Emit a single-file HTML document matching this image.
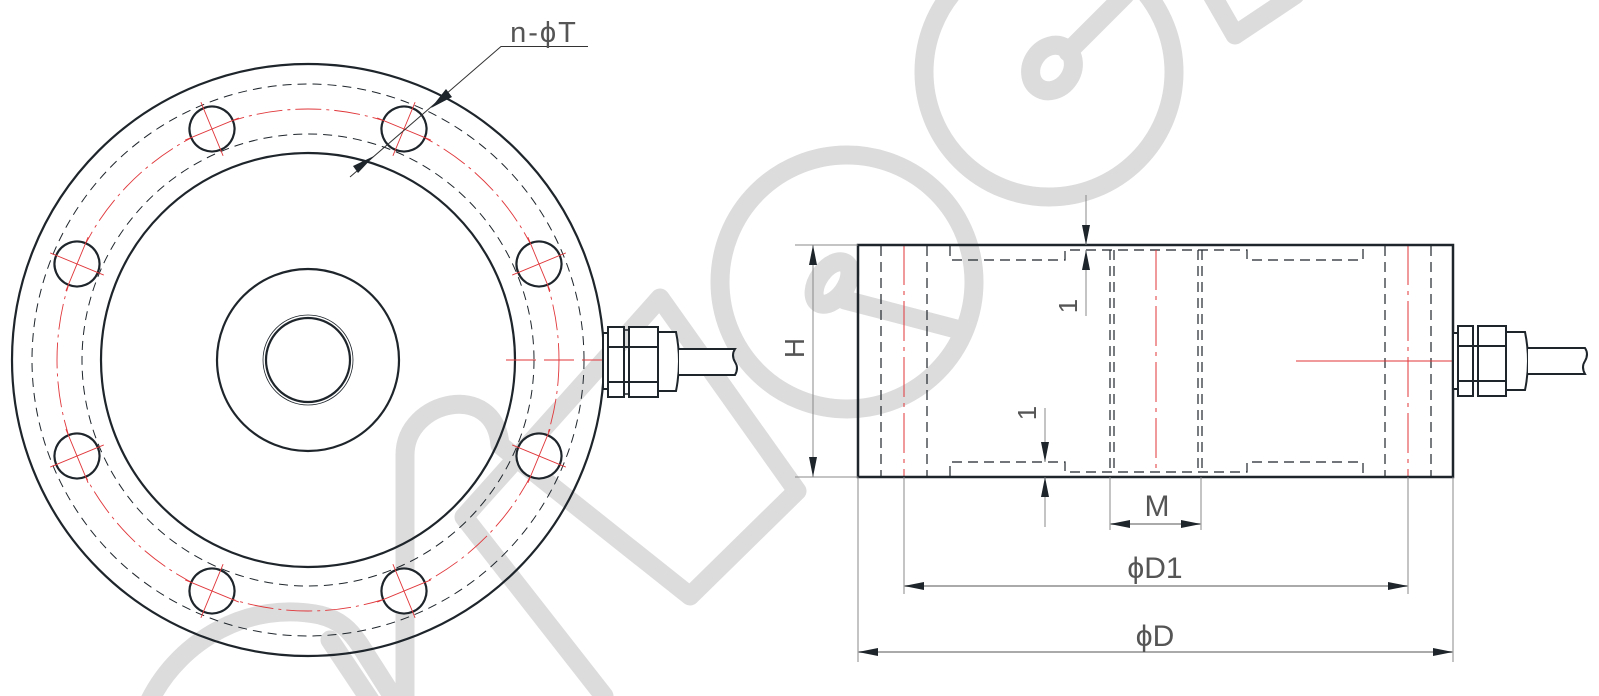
<!DOCTYPE html>
<html><head><meta charset="utf-8"><style>
html,body{margin:0;padding:0;background:#fff;}
svg{display:block;}
text{font-family:"Liberation Sans",sans-serif;fill:#555;}
</style></head><body>
<svg width="1599" height="696" viewBox="0 0 1599 696" xmlns="http://www.w3.org/2000/svg">
<defs>
<marker id="ar" viewBox="0 0 20 8" refX="20" refY="4" markerWidth="20" markerHeight="8" markerUnits="userSpaceOnUse" orient="auto"><path d="M0,0 L20,4 L0,8 z" fill="#1e252b"/></marker>
</defs>
<!-- watermark -->
<g fill="none" stroke="#dcdcdc" stroke-width="19" stroke-linecap="round" stroke-linejoin="round">
<circle cx="1049" cy="72" r="125"/>
<ellipse cx="1052" cy="68" rx="20" ry="24" transform="rotate(35 1052 68)"/>
<path d="M1068,52 L1125,-5"/>
<path d="M1212,-5 L1235,35 L1295,-5"/>
<circle cx="847" cy="282" r="127"/>
<ellipse cx="832" cy="283" rx="14" ry="24" transform="rotate(35 832 283)"/>
<path d="M845,300 L960,330"/>
<path d="M405,700 V455 C405,400 495,380 500,445 L690,596 L797,491 L660,298 L464,517 L604,696"/>
<path d="M150,700 C180,640 250,600 320,615 C340,620 350,630 360,645 L395,700"/>
<path d="M330,640 L370,700"/>
</g>
<!-- LEFT VIEW -->
<g fill="none" stroke="#1e252b">
<circle cx="308" cy="360" r="296" stroke-width="2.2"/>
<circle cx="308" cy="360" r="207" stroke-width="2.2"/>
<circle cx="308" cy="360" r="91" stroke-width="2.2"/>
<circle cx="308" cy="360" r="42" stroke-width="2.2"/>
<circle cx="308" cy="360" r="45" stroke-width="0.8"/>
<circle cx="308" cy="360" r="276" stroke-width="1" stroke-dasharray="9 6"/>
<circle cx="308" cy="360" r="226" stroke-width="1" stroke-dasharray="9 6"/>
</g>
<circle cx="308" cy="360" r="251" fill="none" stroke="#e0363a" stroke-width="0.9" stroke-dasharray="26 5 3 5"/>
<line x1="506" y1="360" x2="606" y2="360" stroke="#e0363a" stroke-width="1" stroke-dasharray="30 8"/>
<g>
<g transform="translate(539,264) rotate(-22.5)"><circle r="22.5" fill="#fff" stroke="#1e252b" stroke-width="2.2"/><path d="M-29,0H29M0,-29V29" stroke="#e0363a" stroke-width="0.9"/></g>
<g transform="translate(404,129) rotate(-67.5)"><circle r="22.5" fill="#fff" stroke="#1e252b" stroke-width="2.2"/><path d="M-29,0H29M0,-29V29" stroke="#e0363a" stroke-width="0.9"/></g>
<g transform="translate(212,129) rotate(67.5)"><circle r="22.5" fill="#fff" stroke="#1e252b" stroke-width="2.2"/><path d="M-29,0H29M0,-29V29" stroke="#e0363a" stroke-width="0.9"/></g>
<g transform="translate(77,264) rotate(22.5)"><circle r="22.5" fill="#fff" stroke="#1e252b" stroke-width="2.2"/><path d="M-29,0H29M0,-29V29" stroke="#e0363a" stroke-width="0.9"/></g>
<g transform="translate(77,456) rotate(-22.5)"><circle r="22.5" fill="#fff" stroke="#1e252b" stroke-width="2.2"/><path d="M-29,0H29M0,-29V29" stroke="#e0363a" stroke-width="0.9"/></g>
<g transform="translate(212,591) rotate(-67.5)"><circle r="22.5" fill="#fff" stroke="#1e252b" stroke-width="2.2"/><path d="M-29,0H29M0,-29V29" stroke="#e0363a" stroke-width="0.9"/></g>
<g transform="translate(404,591) rotate(67.5)"><circle r="22.5" fill="#fff" stroke="#1e252b" stroke-width="2.2"/><path d="M-29,0H29M0,-29V29" stroke="#e0363a" stroke-width="0.9"/></g>
<g transform="translate(539,456) rotate(22.5)"><circle r="22.5" fill="#fff" stroke="#1e252b" stroke-width="2.2"/><path d="M-29,0H29M0,-29V29" stroke="#e0363a" stroke-width="0.9"/></g>
</g>
<!-- leader n-phiT -->
<path d="M588,46.5 H501 L350,177" stroke="#333" stroke-width="1" fill="none"/>
<path d="M431,108 L446,89 L452,97 z" fill="#1e252b"/>
<path d="M374,156 L358,173 L353,166 z" fill="#1e252b"/>
<text x="544" y="42" font-size="29" text-anchor="middle" style="letter-spacing:2px">n-ϕT</text>
<!-- left connector -->
<g fill="#fff" stroke="#1e252b" stroke-width="2">
<rect x="603" y="333" width="5" height="56"/>
<rect x="608" y="327" width="16" height="70"/>
<rect x="629" y="327" width="29" height="70"/>
<path d="M658,332 H676 Q682,361 676,391 H658 z"/>
<path d="M679,349 H735 Q731,355 735,362 Q739,368 735,375 H679"/>
<path d="M608,347 H658 M608,382 H658" fill="none"/>
<path d="M624,330 H629 M624,394 H629" fill="none" stroke-width="1.5"/>
</g>
<!-- RIGHT VIEW -->
<g fill="none" stroke="#1e252b" stroke-width="1.2" stroke-dasharray="10 6">
<line x1="881" y1="246" x2="881" y2="476"/>
<line x1="927" y1="246" x2="927" y2="476"/>
<line x1="1385" y1="246" x2="1385" y2="476"/>
<line x1="1431" y1="246" x2="1431" y2="476"/>
<line x1="1110" y1="250" x2="1110" y2="472"/>
<line x1="1114" y1="250" x2="1114" y2="472"/>
<line x1="1198" y1="250" x2="1198" y2="472"/>
<line x1="1202" y1="250" x2="1202" y2="472"/>
<path d="M950,246 V260 H1065 V250 H1247 V260 H1363 V246"/>
<path d="M950,476 V462 H1065 V472 H1247 V462 H1363 V476"/>
</g>
<g stroke="#e0363a" stroke-width="1" stroke-dasharray="40 6 4 6">
<line x1="904" y1="245" x2="904" y2="477"/>
<line x1="1408" y1="245" x2="1408" y2="477"/>
<line x1="1156" y1="250" x2="1156" y2="472"/>
</g>
<line x1="1296" y1="361" x2="1453" y2="361" stroke="#e0363a" stroke-width="1"/>
<rect x="858" y="245" width="595" height="232" fill="none" stroke="#1e252b" stroke-width="2.5"/>
<!-- right connector -->
<g fill="#fff" stroke="#1e252b" stroke-width="2">
<rect x="1453" y="333" width="5" height="56"/>
<rect x="1458" y="326" width="15" height="70"/>
<rect x="1478" y="326" width="28" height="70"/>
<path d="M1506,332 H1525 Q1531,361 1525,390 H1506 z"/>
<path d="M1528,348 H1585 Q1589,354 1585,361 Q1581,367 1585,374 H1528"/>
<path d="M1458,346 H1506 M1458,381 H1506" fill="none"/>
</g>
<!-- dimensions -->
<g stroke="#888" stroke-width="1" fill="none">
<path d="M795,245 H858 M795,477 H858"/>
<path d="M858,477 V662 M1453,477 V662 M904,477 V594 M1408,477 V594 M1110,477 V530 M1201,477 V530"/>
<line x1="1086" y1="195" x2="1086" y2="245" marker-end="url(#ar)"/>
<line x1="1086" y1="316" x2="1086" y2="250" marker-end="url(#ar)"/>
<line x1="1045" y1="408" x2="1045" y2="462" marker-end="url(#ar)"/>
<line x1="1045" y1="527" x2="1045" y2="477" marker-end="url(#ar)"/>
<line x1="1155" y1="524" x2="1110" y2="524" marker-end="url(#ar)" stroke="#aaa" stroke-width="2"/>
<line x1="1155" y1="524" x2="1201" y2="524" marker-end="url(#ar)" stroke="#aaa" stroke-width="2"/>
<line x1="1155" y1="586" x2="904" y2="586" marker-end="url(#ar)" stroke="#aaa" stroke-width="2"/>
<line x1="1155" y1="586" x2="1408" y2="586" marker-end="url(#ar)" stroke="#aaa" stroke-width="2"/>
<line x1="1155" y1="652" x2="858" y2="652" marker-end="url(#ar)" stroke="#aaa" stroke-width="2"/>
<line x1="1155" y1="652" x2="1453" y2="652" marker-end="url(#ar)" stroke="#aaa" stroke-width="2"/>
<line x1="813" y1="361" x2="813" y2="245" marker-end="url(#ar)"/>
<line x1="813" y1="361" x2="813" y2="477" marker-end="url(#ar)"/>
</g>
<text font-size="28" text-anchor="middle" transform="translate(804,348) rotate(-90)">H</text>
<text font-size="26" text-anchor="middle" transform="translate(1077,306) rotate(-90)">1</text>
<text font-size="26" text-anchor="middle" transform="translate(1036,413) rotate(-90)">1</text>
<text x="1157" y="516" font-size="30" text-anchor="middle">M</text>
<text x="1155" y="578" font-size="30" text-anchor="middle">ϕD1</text>
<text x="1155" y="646" font-size="30" text-anchor="middle">ϕD</text>
</svg>
</body></html>
